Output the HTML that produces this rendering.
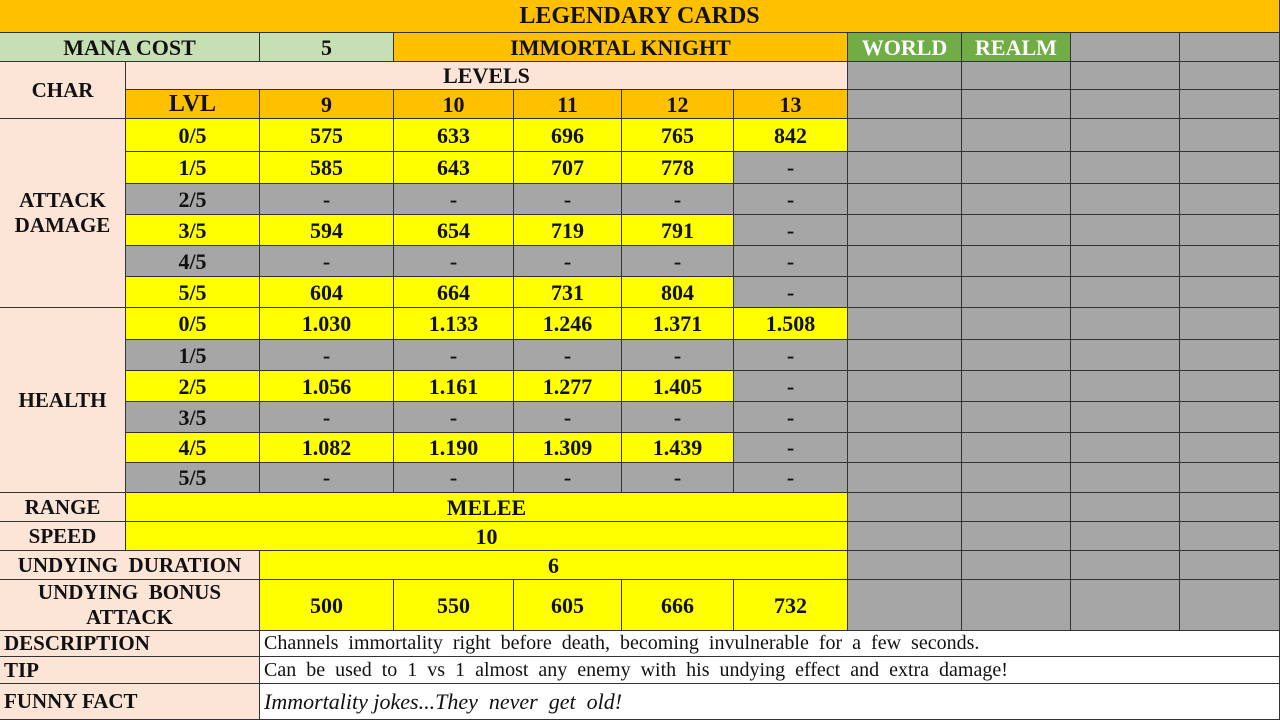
<!DOCTYPE html>
<html><head><meta charset="utf-8">
<style>
body{margin:0;width:1280px;height:720px;overflow:hidden;background:#fff;font-family:"Liberation Serif","Times New Roman","Tinos","DejaVu Serif",serif;}
#t{position:relative;width:1280px;height:720px;}
.c{position:absolute;box-sizing:border-box;border-right:1px solid #333;border-bottom:1px solid #333;display:flex;align-items:center;justify-content:center;font-weight:bold;font-size:22px;color:#111;text-align:center;line-height:25px;white-space:nowrap;font-family:"Liberation Serif","Times New Roman","Tinos",serif;}
.l{justify-content:flex-start;padding-left:4px;}
.n{font-weight:normal;font-size:20px;}
</style></head><body>
<div id="t"></div>
<script>
const levels=["9","10","11","12","13"];
const stars=["0/5","1/5","2/5","3/5","4/5","5/5"];
const attack=[["575","633","696","765","842"],["585","643","707","778","-"],["-","-","-","-","-"],["594","654","719","791","-"],["-","-","-","-","-"],["604","664","731","804","-"]];
const health=[["1.030","1.133","1.246","1.371","1.508"],["-","-","-","-","-"],["1.056","1.161","1.277","1.405","-"],["-","-","-","-","-"],["1.082","1.190","1.309","1.439","-"],["-","-","-","-","-"]];
const bonus=["500","550","605","666","732"];
const X=[0,126,260,394,514,622,734,848,962,1071,1180,1280];
const Y=[119,152,184,215,246,277,308,340,371,402,433,463,493];
const OR="#FFC000",LG="#C6E0B4",PE="#FCE4D6",YE="#FFFF00",GR="#A6A6A6",GN="#70AD47";
const T=document.getElementById('t');
function cell(x0,x1,y0,y1,bg,txt,name,cls,style){
  const d=document.createElement('div');
  d.className='c '+(cls||'');
  d.style.left=x0+'px';d.style.top=y0+'px';d.style.width=(x1-x0)+'px';d.style.height=(y1-y0)+'px';d.style.background=bg;
  if(style)d.style.cssText+=style;
  d.innerHTML=txt||'';
  
  
  T.appendChild(d);return d;
}
cell(0,1280,0,33,OR,"LEGENDARY CARDS","title","","font-size:24px;");
cell(0,260,33,62,LG,"MANA COST","mana-cost-label");
cell(260,394,33,62,LG,"5","mana-cost-value");
cell(394,848,33,62,OR,"IMMORTAL KNIGHT","card-name");
cell(848,962,33,62,GN,"WORLD","world-tag","","color:#fff;");
cell(962,1071,33,62,GN,"REALM","realm-tag","","color:#fff;");
cell(1071,1180,33,62,GR,"","blank-cell");cell(1180,1280,33,62,GR,"","blank-cell");
cell(0,126,62,119,PE,"CHAR","char-header","","font-size:21px;");
cell(126,848,62,90,PE,"LEVELS","levels-header");
cell(126,260,90,119,OR,"LVL","lvl-header","","font-size:24px;");
levels.forEach((v,i)=>cell(X[i+2],X[i+3],90,119,OR,v,"level-"+v));
cell(0,126,Y[0],Y[6],PE,"ATTACK<br>DAMAGE","attack-damage-label","","font-size:21px;");
cell(0,126,Y[6],Y[12],PE,"HEALTH","health-label","","font-size:21px;");
function block(arr,off,pre){
  arr.forEach((row,r)=>{
    const full=row.some(v=>v!=="-");
    cell(126,260,Y[r+off],Y[r+off+1],full?YE:GR,stars[r],pre+"-stars-"+r);
    row.forEach((v,i)=>cell(X[i+2],X[i+3],Y[r+off],Y[r+off+1],v==="-"?GR:YE,v,pre+"-value"));
  });
}
block(attack,0,"attack");block(health,6,"health");
cell(0,126,493,522,PE,"RANGE","range-label","","font-size:21px;");cell(126,848,493,522,YE,"MELEE","range-value");
cell(0,126,522,551,PE,"SPEED","speed-label","","font-size:21px;");cell(126,848,522,551,YE,"10","speed-value");
cell(0,260,551,580,PE,"UNDYING&nbsp; DURATION","undying-duration-label","","font-size:21px;");cell(260,848,551,580,YE,"6","undying-duration-value");
cell(0,260,580,631,PE,"UNDYING&nbsp; BONUS<br>ATTACK","undying-bonus-label","","font-size:21px;");
bonus.forEach((v,i)=>cell(X[i+2],X[i+3],580,631,YE,v,"undying-bonus-value"));
const GY=[62,90,119].concat(Y.slice(1),[522,551,580,631]);
for(let r=0;r<GY.length-1;r++)for(let c=7;c<11;c++)cell(X[c],X[c+1],GY[r],GY[r+1],GR,"","blank-cell");
cell(0,260,631,657,PE,"DESCRIPTION","description-label","l","font-size:21px;");
cell(260,1280,631,657,"#fff","Channels&nbsp; immortality&nbsp; right&nbsp; before&nbsp; death,&nbsp; becoming&nbsp; invulnerable&nbsp; for&nbsp; a&nbsp; few&nbsp; seconds.","description-text","l n");
cell(0,260,657,684,PE,"TIP","tip-label","l","font-size:21px;");
cell(260,1280,657,684,"#fff","Can&nbsp; be&nbsp; used&nbsp; to&nbsp; 1&nbsp; vs&nbsp; 1&nbsp; almost&nbsp; any&nbsp; enemy&nbsp; with&nbsp; his&nbsp; undying&nbsp; effect&nbsp; and&nbsp; extra&nbsp; damage!","tip-text","l n");
cell(0,260,684,720,PE,"FUNNY FACT","funny-fact-label","l","font-size:21px;");
cell(260,1280,684,720,"#fff","Immortality jokes...They&nbsp; never&nbsp; get&nbsp; old!","funny-fact-text","l n","font-style:italic;font-size:22px;");
</script>
</body></html>
